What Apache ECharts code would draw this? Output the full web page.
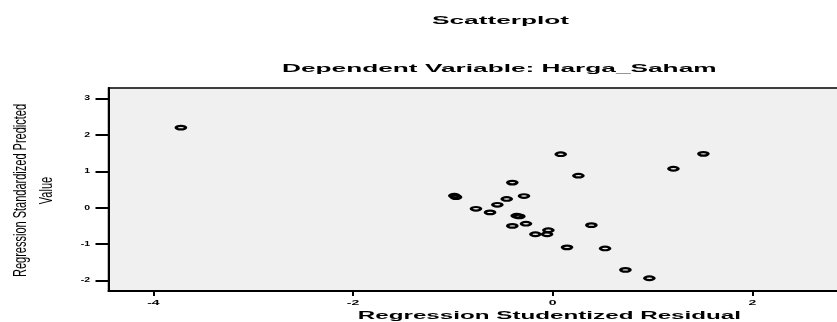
<!DOCTYPE html>
<html>
<head>
<meta charset="utf-8">
<script src="https://cdn.jsdelivr.net/npm/echarts@6/dist/echarts.min.js"></script>
<style>
html,body{margin:0;padding:0;background:#fff;}
#chart{width:837px;height:322px;}
</style>
</head>
<body>
<div id="chart"></div>
<script>
// Regression Studentized Residual (x) and Regression Standardized Predicted Value (y)
var residuals = [-3.725, 0.08, 0.257, 1.209, 1.509, -0.405, -0.986, -0.969, -0.288, -0.461,
                 -0.555, -0.769, -0.628, -0.361, -0.335, -0.268, -0.405, -0.044, -0.057, -0.174,
                 0.387, 0.143, 0.524, 0.728, 0.968];
var predicted = [2.20, 1.47, 0.88, 1.07, 1.48, 0.69, 0.33, 0.29, 0.32, 0.24,
                 0.08, -0.03, -0.13, -0.22, -0.24, -0.44, -0.50, -0.62, -0.73, -0.73,
                 -0.48, -1.09, -1.12, -1.71, -1.94];
var xTicks = [-4, -2, 0, 2];
var yTicks = [-2, -1, 0, 1, 2, 3];
var titleText = 'Scatterplot';
var subtitleText = 'Dependent Variable: Harga_Saham';
var xName = 'Regression Studentized Residual';
var yNameLines = ['Regression Standardized Predicted', 'Value'];

var X_MIN = -4.45, X_MAX = 4.38, Y_MIN = -2.29, Y_MAX = 3.29;
var FONT = "'Liberation Sans', Arial, sans-serif";
// ring-shaped marker (outer circle with elliptical hole), stretched like the original
var RING = 'path://M-10,0 A10,10 0 1,0 10,0 A10,10 0 1,0 -10,0 Z M-4.7,0 A4.7,2.4 0 1,1 4.7,0 A4.7,2.4 0 1,1 -4.7,0 Z';

var points = residuals.map(function (r, i) { return [r, predicted[i]]; });

var chart = echarts.init(document.getElementById('chart'), null, {renderer: 'canvas'});
chart.setOption({
  backgroundColor: '#ffffff',
  animation: false,
  grid: {
    left: 108.5, top: 88, right: -153, bottom: 31,
    outerBoundsMode: 'none', containLabel: false,
    show: true, backgroundColor: '#f0f0f0', borderColor: '#000', borderWidth: 1.5
  },
  xAxis: {
    type: 'value', min: X_MIN, max: X_MAX,
    axisLine: {show: true, onZero: false, lineStyle: {color: '#000', width: 2}},
    axisTick: {show: true, length: 5, lineStyle: {color: '#000', width: 2}, customValues: xTicks},
    axisLabel: {show: false},
    splitLine: {show: false}
  },
  yAxis: {
    type: 'value', min: Y_MIN, max: Y_MAX,
    axisLine: {show: true, onZero: false, lineStyle: {color: '#000', width: 2}},
    axisTick: {show: true, length: 13, lineStyle: {color: '#000', width: 2}, customValues: yTicks},
    axisLabel: {show: false},
    splitLine: {show: false}
  },
  series: [{
    type: 'scatter',
    data: points,
    symbol: RING,
    symbolSize: [12.7, 5.8],
    symbolKeepAspect: false,
    itemStyle: {color: '#000', opacity: 1}
  }]
});

function txt(text, x, y, opts) {
  return {
    type: 'text', x: x, y: y,
    scaleX: opts.scaleX || 1, scaleY: opts.scaleY || 1,
    rotation: opts.rotation || 0,
    silent: true,
    style: {
      text: text, fill: '#000',
      fontFamily: FONT, fontSize: opts.fontSize, fontWeight: opts.fontWeight || 'normal',
      align: opts.align || 'center', verticalAlign: 'middle',
      textAlign: opts.align || 'center', textVerticalAlign: 'middle'
    }
  };
}

var g = [];
g.push(txt(titleText, 500.5, 20.5, {fontSize: 11, fontWeight: 'bold', scaleX: 2.385}));
g.push(txt(subtitleText, 499.3, 68.5, {fontSize: 11, fontWeight: 'bold', scaleX: 2.385}));
g.push(txt(xName, 549.4, 316.5, {fontSize: 10, fontWeight: 'bold', scaleX: 2.42}));
g.push(txt(yNameLines[0], 20.6, 190.5, {fontSize: 11, rotation: Math.PI / 2, scaleY: 1.75}));
g.push(txt(yNameLines[1], 47, 190.5, {fontSize: 11, rotation: Math.PI / 2, scaleY: 1.75}));

xTicks.forEach(function (v) {
  var p = chart.convertToPixel({gridIndex: 0}, [v, Y_MIN]);
  g.push(txt(String(v), p[0], 302.7, {fontSize: 7, fontWeight: 'bold', scaleX: 2.0}));
});
yTicks.forEach(function (v) {
  var p = chart.convertToPixel({gridIndex: 0}, [X_MIN, v]);
  g.push(txt(String(v), 90, p[1], {fontSize: 7, fontWeight: 'bold', scaleX: 1.5, align: 'right'}));
});

chart.setOption({graphic: g});
</script>
</body>
</html>
